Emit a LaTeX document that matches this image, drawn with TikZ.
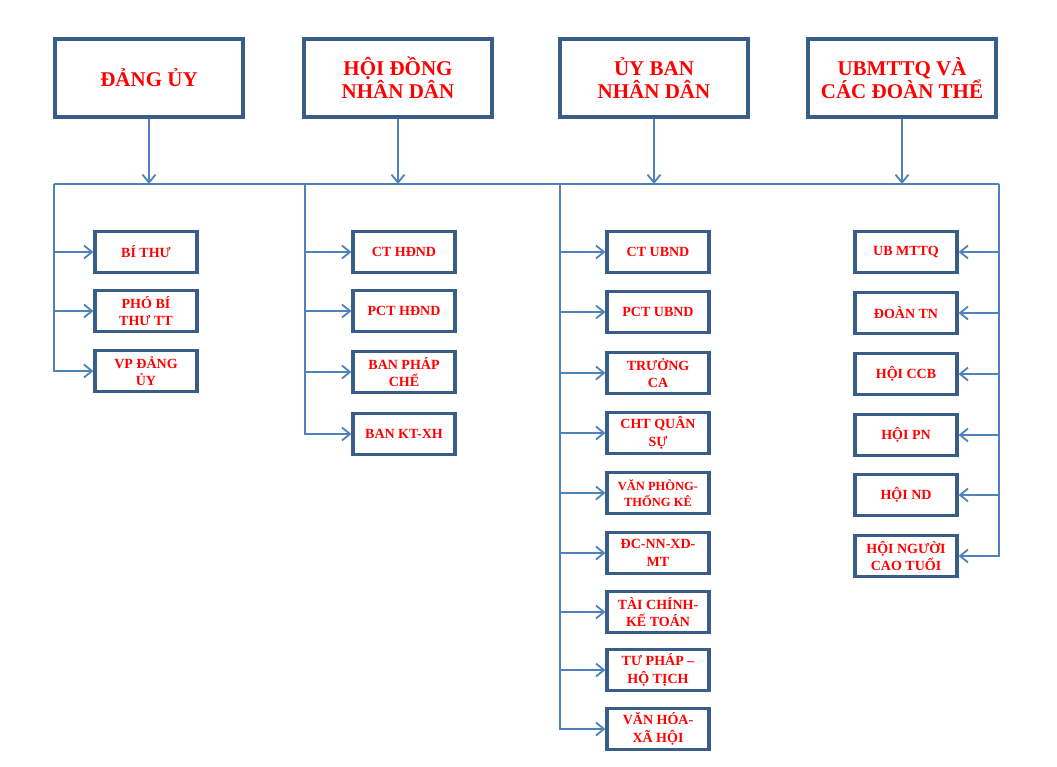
\documentclass[tikz,border=0pt]{standalone}
\usepackage{fontspec}
\setmainfont{Liberation Serif}
\usetikzlibrary{arrows.meta,positioning}

\definecolor{boxblue}{RGB}{56,93,138}
\definecolor{lineblue}{RGB}{79,129,189}

\tikzset{
  headbox/.style={draw=boxblue,line width=3.5pt,minimum width=188pt,minimum height=78pt,
    align=center,text=red,inner sep=2pt,font=\bfseries\fontsize{21}{23}\selectfont},
  unitbox/.style={draw=boxblue,line width=3.2pt,minimum width=102pt,minimum height=41pt,
    align=center,text=red,inner sep=1pt,font=\bfseries\fontsize{14}{17.5}\selectfont},
  link/.style={draw=lineblue,line width=1.8pt},
  linkarrow/.style={link,-{Straight Barb[length=8pt,width=13pt,line width=1.8pt]}}
}

\begin{document}
\begin{tikzpicture}[x=1pt,y=-1pt]
      \useasboundingbox (0,0) rectangle (1057,767);

      % top level boxes
      \node[headbox] (dangUy) at (149,78) {ĐẢNG ỦY};
      \node[headbox] (hoiDong) at (398,78) {HỘI ĐỒNG\\NHÂN DÂN};
      \node[headbox] (uyBan) at (654,78) {ỦY BAN\\NHÂN DÂN};
      \node[headbox] (matTran) at (902,78) {UBMTTQ VÀ\\CÁC ĐOÀN THỂ};

      % common bus line
      \coordinate (busL) at (54,184);
      \coordinate (busR) at (999,184);
      \coordinate (c2) at (305,184);
      \coordinate (c3) at (560,184);
      \draw[link] (busL) -- (busR);

      \foreach \n in {dangUy,hoiDong,uyBan,matTran}
        \draw[linkarrow] (\n.south) -- (\n.south |- busL);

      % column 1
      \node[unitbox] (bithu) at (146,252) {BÍ THƯ};
      \node[unitbox] (phobithu) at (146,311) {PHÓ BÍ\\THƯ TT};
      \node[unitbox] (vpdanguy) at (146,371) {VP ĐẢNG\\ỦY};

      % column 2
      \node[unitbox] (cthd) at (404,252) {CT HĐND};
      \node[unitbox] (pcthd) at (404,311) {PCT HĐND};
      \node[unitbox] (banpc) at (404,372) {BAN PHÁP\\CHẾ};
      \node[unitbox] (banktxh) at (404,434) {BAN KT-XH};

      % column 3
      \node[unitbox] (ctub) at (658,252) {CT UBND};
      \node[unitbox] (pctub) at (658,312) {PCT UBND};
      \node[unitbox] (truongca) at (658,373) {TRƯỞNG\\CA};
      \node[unitbox] (chtqs) at (658,433) {CHT QUÂN\\SỰ};
      \node[unitbox,font=\bfseries\fontsize{12.5}{16}\selectfont] (vpthongke) at (658,493) {VĂN PHÒNG-\\THỐNG KÊ};
      \node[unitbox] (dcnn) at (658,553) {ĐC-NN-XD-\\MT};
      \node[unitbox] (taichinh) at (658,612) {TÀI CHÍNH-\\KẾ TOÁN};
      \node[unitbox] (tuphap) at (658,670) {TƯ PHÁP –\\HỘ TỊCH};
      \node[unitbox] (vanhoa) at (658,729) {VĂN HÓA-\\XÃ HỘI};

      % column 4
      \node[unitbox] (ubmttq) at (906,252) {UB MTTQ};
      \node[unitbox] (doantn) at (906,313) {ĐOÀN TN};
      \node[unitbox] (hoiccb) at (906,374) {HỘI CCB};
      \node[unitbox] (hoipn) at (906,435) {HỘI PN};
      \node[unitbox] (hoind) at (906,495) {HỘI ND};
      \node[unitbox] (hoinct) at (906,556) {HỘI NGƯỜI\\CAO TUỔI};

      % branches
      \foreach \n in {bithu,phobithu,vpdanguy}
        \draw[linkarrow] (busL) |- (\n.west);
      \foreach \n in {cthd,pcthd,banpc,banktxh}
        \draw[linkarrow] (c2) |- (\n.west);
      \foreach \n in {ctub,pctub,truongca,chtqs,vpthongke,dcnn,taichinh,tuphap,vanhoa}
        \draw[linkarrow] (c3) |- (\n.west);
      \foreach \n in {ubmttq,doantn,hoiccb,hoipn,hoind,hoinct}
        \draw[linkarrow] (busR) |- (\n.east);
\end{tikzpicture}
\end{document}
